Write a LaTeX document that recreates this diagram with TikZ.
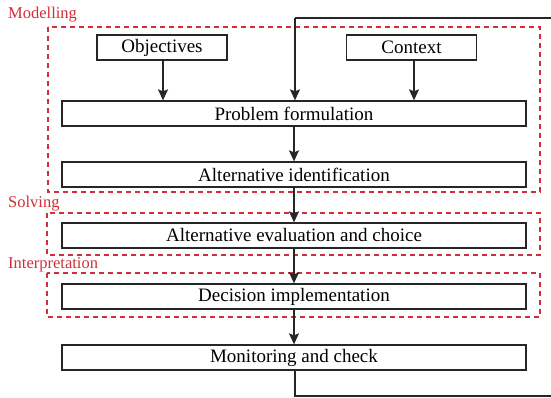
\documentclass[tikz,border=0pt]{standalone}
\usepackage{fontspec}
\setmainfont{Liberation Serif}
\usetikzlibrary{arrows.meta}
\definecolor{redd}{HTML}{D1303A}
\begin{document}
\begin{tikzpicture}[x=1pt,y=-1pt,
  box/.style={draw=black!85,line width=1.3pt,minimum width=464pt,minimum height=25pt,inner sep=0pt,font=\fontsize{19}{22}\selectfont},
  sbox/.style={box,minimum width=130pt},
  grp/.style={draw=redd,line width=1.2pt,dash pattern=on 5pt off 4pt},
  lab/.style={text=redd,anchor=west,inner sep=0pt,font=\fontsize{16.5}{19}\selectfont},
  arr/.style={draw=black!85,line width=1.3pt,-{Stealth[length=11pt,width=10pt,inset=2pt]}},
  ln/.style={draw=black!85,line width=1.3pt}]
\useasboundingbox (0,0) rectangle (551,398);
\fill[white] (0,0) rectangle (551,398);
% groups
\draw[grp] (48,27) rectangle (540,192);
\draw[grp] (47,213) rectangle (540,255);
\draw[grp] (47,273) rectangle (540,317);
\node[lab] (lm) at (8,15) {Modelling};
\node[lab] (ls) at (8,204) {Solving};
\node[lab] (li) at (8,265) {Interpretation};
% boxes
\node[sbox] (obj) at (162,47.5) {Objectives};
\node[sbox] (ctx) at (411.5,47.5) {Context};
\node[box] (pf) at (294,113.5) {Problem formulation};
\node[box] (ai) at (294,174.5) {Alternative identification};
\node[box] (ae) at (294,235.5) {Alternative evaluation and choice};
\node[box] (di) at (294,296.5) {Decision implementation};
\node[box] (mc) at (294,357.5) {Monitoring and check};
% arrows
\draw[arr] (obj.south -| 163,0) -- (pf.north -| 163,0);
\draw[arr] (ctx.south -| 414,0) -- (pf.north -| 414,0);
\draw[arr] (pf) -- (ai);
\draw[arr] (ai) -- (ae);
\draw[arr] (ae) -- (di);
\draw[arr] (di) -- (mc);
% feedback
\coordinate (f1) at (295,396);
\coordinate (f2) at (553,396);
\coordinate (f3) at (553,18);
\coordinate (f4) at (295,18);
\draw[ln] (mc.south -| f1) -- (f1) -- (f2) -- (f3) -- (f4);
\draw[arr] (f4) -- (pf.north -| f4);
\end{tikzpicture}
\end{document}
